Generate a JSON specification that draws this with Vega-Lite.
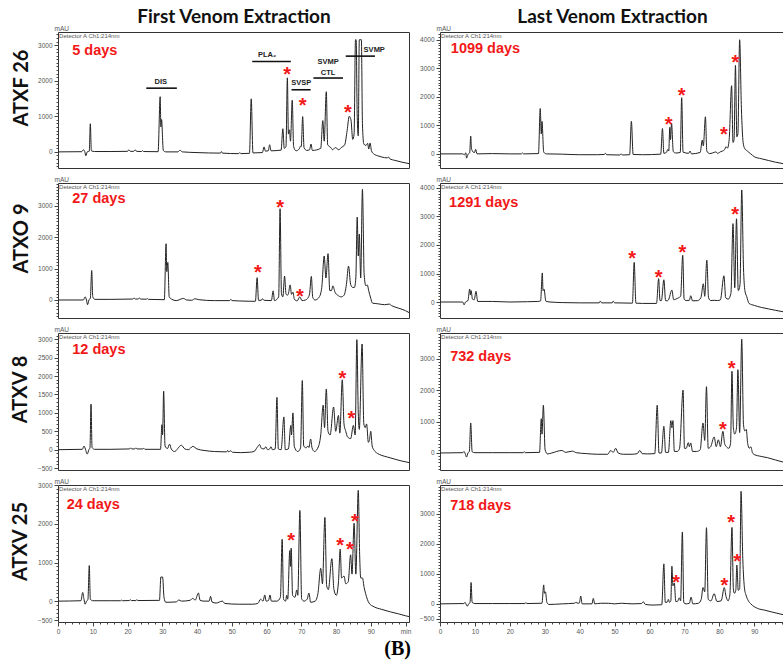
{
"$schema": "https://vega.github.io/schema/vega-lite/v6.json",
"background": "white",
"padding": {"left": 10, "top": 6, "right": 0, "bottom": 8},
"autosize": {"type": "pad"},
"config": {
 "view": {"stroke": "#333", "strokeWidth": 1},
 "font": "Liberation Sans",
 "axis": {"grid": false, "labelFont": "Liberation Sans", "labelFontSize": 6.5, "labelColor": "#555", "tickColor": "#444", "domain": false, "labelPadding": 2, "titleFont": "Liberation Sans", "titleFontSize": 6.5, "titleFontWeight": "normal", "titleColor": "#555", "labelOverlap": false, "labelFlush": false}
},
"title": {"text": "(B)", "orient": "bottom", "anchor": "middle", "font": "Liberation Serif", "fontSize": 20, "fontWeight": "bold", "color": "#000", "offset": 4},
"datasets": {
"r1L": [{"t":0,"v":0},{"t":6.8,"v":5},{"t":7.3,"v":60},{"t":7.7,"v":10},{"t":8.0,"v":-110},{"t":8.4,"v":0},{"t":9.0,"v":20},{"t":9.3,"v":790},{"t":9.6,"v":30},{"t":10.5,"v":10},{"t":15,"v":10},{"t":20.0,"v":15},{"t":20.4,"v":60},{"t":20.8,"v":15},{"t":21.8,"v":15},{"t":22.2,"v":60},{"t":22.6,"v":15},{"t":24.0,"v":10},{"t":24.3,"v":35},{"t":24.6,"v":10},{"t":28.8,"v":5},{"t":29.4,"v":1550},{"t":29.6,"v":700},{"t":29.8,"v":910},{"t":30.3,"v":40},{"t":31,"v":0},{"t":34.5,"v":0},{"t":35.1,"v":45},{"t":35.8,"v":0},{"t":40,"v":-20},{"t":46.7,"v":-35},{"t":47.0,"v":10},{"t":47.3,"v":-35},{"t":52.0,"v":-50},{"t":52.3,"v":-20},{"t":52.6,"v":-50},{"t":55.1,"v":-40},{"t":55.6,"v":1490},{"t":56.1,"v":-30},{"t":58.8,"v":-20},{"t":59.3,"v":140},{"t":59.7,"v":20},{"t":60.5,"v":30},{"t":60.9,"v":200},{"t":61.3,"v":30},{"t":64.2,"v":50},{"t":64.7,"v":650},{"t":65.1,"v":100},{"t":65.6,"v":150},{"t":66.0,"v":2080},{"t":66.3,"v":500},{"t":66.6,"v":620},{"t":66.9,"v":300},{"t":67.4,"v":1450},{"t":67.8,"v":150},{"t":68.5,"v":30},{"t":69.4,"v":80},{"t":69.8,"v":160},{"t":70.0,"v":150},{"t":70.4,"v":990},{"t":70.8,"v":120},{"t":71.6,"v":40},{"t":72.4,"v":60},{"t":72.8,"v":220},{"t":73.2,"v":40},{"t":75.6,"v":100},{"t":76.2,"v":880},{"t":76.6,"v":300},{"t":77.2,"v":1690},{"t":77.6,"v":200},{"t":78.5,"v":120},{"t":79.0,"v":60},{"t":79.8,"v":120},{"t":80.8,"v":60},{"t":81.5,"v":120},{"t":82.5,"v":200},{"t":83.2,"v":600},{"t":83.8,"v":1000},{"t":84.3,"v":900},{"t":84.8,"v":350},{"t":85.2,"v":500},{"t":85.6,"v":3150},{"t":85.8,"v":3150},{"t":86.1,"v":1000},{"t":86.4,"v":450},{"t":86.7,"v":3150},{"t":87.3,"v":3150},{"t":87.6,"v":800},{"t":88.0,"v":220},{"t":88.6,"v":180},{"t":89.1,"v":240},{"t":89.4,"v":80},{"t":89.8,"v":250},{"t":90.2,"v":30},{"t":90.9,"v":-60},{"t":92,"v":-110},{"t":93,"v":-140},{"t":94.8,"v":-170},{"t":95.1,"v":-140},{"t":95.4,"v":-190},{"t":97,"v":-240},{"t":99,"v":-290},{"t":101,"v":-330}],
"r1R": [{"t":0,"v":0},{"t":6.5,"v":0},{"t":7.0,"v":-30},{"t":7.4,"v":40},{"t":7.6,"v":-150},{"t":8.0,"v":-20},{"t":8.5,"v":40},{"t":8.8,"v":620},{"t":9.0,"v":200},{"t":9.2,"v":120},{"t":9.5,"v":60},{"t":9.9,"v":50},{"t":10.2,"v":160},{"t":10.6,"v":0},{"t":15,"v":10},{"t":20,"v":0},{"t":23.3,"v":0},{"t":23.6,"v":35},{"t":23.9,"v":0},{"t":28.2,"v":10},{"t":28.7,"v":1590},{"t":29.0,"v":700},{"t":29.2,"v":1140},{"t":29.7,"v":60},{"t":30.5,"v":0},{"t":35,"v":-10},{"t":40,"v":-30},{"t":45,"v":-30},{"t":47.0,"v":-20},{"t":47.4,"v":20},{"t":47.7,"v":-30},{"t":51.5,"v":-40},{"t":51.9,"v":0},{"t":52.2,"v":-40},{"t":54.3,"v":-30},{"t":54.8,"v":1140},{"t":55.3,"v":-20},{"t":58,"v":-30},{"t":63.2,"v":-10},{"t":63.7,"v":890},{"t":64.1,"v":20},{"t":64.9,"v":60},{"t":65.2,"v":150},{"t":65.5,"v":100},{"t":65.8,"v":930},{"t":66.0,"v":500},{"t":66.3,"v":1080},{"t":66.8,"v":80},{"t":67.5,"v":30},{"t":68.8,"v":50},{"t":69.2,"v":1970},{"t":69.6,"v":60},{"t":71.2,"v":20},{"t":71.6,"v":100},{"t":72.0,"v":0},{"t":74.5,"v":50},{"t":75.1,"v":480},{"t":75.4,"v":280},{"t":76.0,"v":1300},{"t":76.4,"v":100},{"t":77.2,"v":10},{"t":78,"v":30},{"t":79.0,"v":70},{"t":79.5,"v":20},{"t":80.4,"v":80},{"t":80.9,"v":100},{"t":81.5,"v":150},{"t":81.9,"v":250},{"t":82.3,"v":200},{"t":82.8,"v":500},{"t":83.5,"v":2390},{"t":83.9,"v":400},{"t":84.2,"v":500},{"t":84.6,"v":3100},{"t":85.0,"v":600},{"t":85.3,"v":700},{"t":85.8,"v":4000},{"t":86.3,"v":1600},{"t":86.8,"v":400},{"t":87.2,"v":200},{"t":88,"v":100},{"t":89,"v":0},{"t":90,"v":-100},{"t":92,"v":-170},{"t":94,"v":-230},{"t":96,"v":-290},{"t":98.6,"v":-350}],
"r2L": [{"t":0,"v":0},{"t":7.3,"v":0},{"t":7.8,"v":100},{"t":8.2,"v":0},{"t":8.5,"v":-150},{"t":8.9,"v":0},{"t":9.3,"v":50},{"t":9.7,"v":940},{"t":10.0,"v":100},{"t":10.6,"v":20},{"t":15,"v":20},{"t":21.5,"v":30},{"t":21.9,"v":60},{"t":22.3,"v":30},{"t":23.0,"v":30},{"t":23.4,"v":60},{"t":23.8,"v":30},{"t":25.4,"v":25},{"t":25.7,"v":45},{"t":26.0,"v":20},{"t":30.6,"v":10},{"t":31.1,"v":1790},{"t":31.3,"v":900},{"t":31.6,"v":1200},{"t":32.0,"v":100},{"t":32.8,"v":20},{"t":34,"v":-20},{"t":36.1,"v":50},{"t":37,"v":0},{"t":38.5,"v":-10},{"t":39.4,"v":40},{"t":40.5,"v":10},{"t":45,"v":-20},{"t":49.4,"v":-20},{"t":49.7,"v":20},{"t":50.1,"v":-20},{"t":52,"v":-30},{"t":55,"v":-40},{"t":56.8,"v":-40},{"t":57.3,"v":710},{"t":57.7,"v":-10},{"t":58.5,"v":-10},{"t":58.8,"v":40},{"t":59.3,"v":-10},{"t":61.4,"v":-20},{"t":61.9,"v":290},{"t":62.3,"v":-20},{"t":63.5,"v":100},{"t":63.9,"v":2905},{"t":64.3,"v":200},{"t":64.7,"v":100},{"t":65.2,"v":760},{"t":65.6,"v":200},{"t":66.0,"v":150},{"t":66.3,"v":200},{"t":66.8,"v":480},{"t":67.2,"v":180},{"t":67.6,"v":250},{"t":68.0,"v":30},{"t":68.8,"v":-30},{"t":69.6,"v":100},{"t":70.2,"v":-20},{"t":71.2,"v":0},{"t":72.0,"v":80},{"t":72.4,"v":200},{"t":72.9,"v":750},{"t":73.3,"v":80},{"t":74.0,"v":0},{"t":75.2,"v":100},{"t":75.9,"v":400},{"t":76.6,"v":1400},{"t":77.1,"v":700},{"t":77.7,"v":1475},{"t":78.2,"v":300},{"t":78.7,"v":300},{"t":79.1,"v":450},{"t":79.7,"v":250},{"t":80.5,"v":150},{"t":81.5,"v":100},{"t":82.3,"v":150},{"t":83.0,"v":500},{"t":83.6,"v":1080},{"t":84.2,"v":500},{"t":84.8,"v":400},{"t":85.3,"v":400},{"t":85.7,"v":700},{"t":86.1,"v":2640},{"t":86.4,"v":1400},{"t":86.7,"v":2100},{"t":87.1,"v":700},{"t":87.6,"v":3520},{"t":88.1,"v":800},{"t":88.6,"v":450},{"t":89.0,"v":480},{"t":89.4,"v":300},{"t":90.0,"v":50},{"t":90.5,"v":-100},{"t":92,"v":-120},{"t":94,"v":-150},{"t":95.3,"v":-130},{"t":96,"v":-180},{"t":98,"v":-260},{"t":100,"v":-340},{"t":101,"v":-400}],
"r2R": [{"t":0,"v":0},{"t":6.5,"v":0},{"t":6.9,"v":-100},{"t":7.3,"v":0},{"t":8.0,"v":50},{"t":8.5,"v":455},{"t":8.7,"v":250},{"t":8.9,"v":400},{"t":9.3,"v":100},{"t":9.8,"v":80},{"t":10.3,"v":375},{"t":10.8,"v":20},{"t":15,"v":20},{"t":20,"v":0},{"t":25,"v":10},{"t":28.0,"v":20},{"t":28.8,"v":40},{"t":29.3,"v":1020},{"t":29.5,"v":400},{"t":29.8,"v":450},{"t":30.3,"v":30},{"t":31.5,"v":0},{"t":35,"v":-20},{"t":40,"v":-30},{"t":45.6,"v":-30},{"t":45.9,"v":30},{"t":46.3,"v":-30},{"t":49.3,"v":-30},{"t":49.6,"v":30},{"t":50.0,"v":-30},{"t":55.1,"v":-40},{"t":55.6,"v":1390},{"t":56.1,"v":-40},{"t":58,"v":-50},{"t":62.0,"v":-50},{"t":62.6,"v":820},{"t":63.0,"v":50},{"t":63.4,"v":50},{"t":64.1,"v":780},{"t":64.6,"v":50},{"t":65.0,"v":40},{"t":65.4,"v":70},{"t":66.4,"v":420},{"t":66.9,"v":80},{"t":67.5,"v":100},{"t":68.3,"v":150},{"t":68.9,"v":200},{"t":69.5,"v":1640},{"t":69.9,"v":100},{"t":70.5,"v":50},{"t":71.4,"v":60},{"t":71.8,"v":220},{"t":72.3,"v":40},{"t":73.8,"v":50},{"t":74.7,"v":150},{"t":75.4,"v":640},{"t":75.8,"v":200},{"t":76.4,"v":1470},{"t":76.9,"v":150},{"t":77.5,"v":50},{"t":78.5,"v":60},{"t":79.5,"v":50},{"t":80.3,"v":80},{"t":81.3,"v":920},{"t":81.8,"v":150},{"t":82.5,"v":100},{"t":83.3,"v":300},{"t":83.9,"v":2750},{"t":84.4,"v":500},{"t":84.9,"v":2920},{"t":85.4,"v":400},{"t":85.9,"v":600},{"t":86.4,"v":3930},{"t":86.9,"v":1200},{"t":87.3,"v":400},{"t":87.8,"v":200},{"t":88.5,"v":-50},{"t":90,"v":-120},{"t":92,"v":-190},{"t":94,"v":-240},{"t":96,"v":-290},{"t":98.6,"v":-350}],
"r3L": [{"t":0,"v":0},{"t":7.0,"v":10},{"t":7.5,"v":100},{"t":8.0,"v":-20},{"t":8.4,"v":-120},{"t":8.9,"v":0},{"t":9.2,"v":50},{"t":9.5,"v":1240},{"t":9.8,"v":60},{"t":10.5,"v":10},{"t":15,"v":10},{"t":20.6,"v":20},{"t":20.9,"v":50},{"t":21.2,"v":20},{"t":22.1,"v":20},{"t":22.4,"v":50},{"t":22.7,"v":20},{"t":24.4,"v":20},{"t":24.7,"v":40},{"t":25.0,"v":10},{"t":29.5,"v":10},{"t":29.9,"v":680},{"t":30.1,"v":400},{"t":30.4,"v":1590},{"t":30.8,"v":100},{"t":31.5,"v":30},{"t":32.1,"v":150},{"t":32.6,"v":20},{"t":33.5,"v":-50},{"t":35.5,"v":120},{"t":36.5,"v":20},{"t":37.5,"v":0},{"t":38.8,"v":90},{"t":40,"v":20},{"t":42,"v":-20},{"t":45,"v":-50},{"t":48.5,"v":-60},{"t":48.8,"v":-20},{"t":49.1,"v":-60},{"t":49.7,"v":-30},{"t":50.2,"v":-70},{"t":52.6,"v":-80},{"t":55,"v":-70},{"t":56.4,"v":-50},{"t":57.3,"v":60},{"t":58.0,"v":140},{"t":58.5,"v":40},{"t":59.3,"v":20},{"t":59.8,"v":80},{"t":60.3,"v":0},{"t":60.9,"v":20},{"t":61.3,"v":80},{"t":61.7,"v":0},{"t":62.5,"v":20},{"t":63.0,"v":1420},{"t":63.4,"v":20},{"t":64.2,"v":0},{"t":65.0,"v":890},{"t":65.4,"v":0},{"t":66.3,"v":20},{"t":67.0,"v":660},{"t":67.2,"v":400},{"t":67.6,"v":1000},{"t":68.0,"v":80},{"t":69.0,"v":-50},{"t":69.8,"v":50},{"t":70.3,"v":1880},{"t":70.7,"v":100},{"t":71.4,"v":50},{"t":71.9,"v":100},{"t":72.2,"v":60},{"t":72.7,"v":290},{"t":73.1,"v":50},{"t":73.8,"v":-50},{"t":75.0,"v":100},{"t":75.6,"v":400},{"t":76.3,"v":1210},{"t":76.7,"v":600},{"t":77.2,"v":1650},{"t":77.7,"v":500},{"t":78.3,"v":400},{"t":79.3,"v":1160},{"t":79.9,"v":500},{"t":80.7,"v":930},{"t":81.1,"v":450},{"t":81.8,"v":1900},{"t":82.3,"v":700},{"t":82.8,"v":500},{"t":83.3,"v":350},{"t":84.2,"v":300},{"t":85.0,"v":660},{"t":85.5,"v":400},{"t":86.0,"v":2990},{"t":86.4,"v":1000},{"t":86.7,"v":550},{"t":87.5,"v":2870},{"t":88.0,"v":700},{"t":88.4,"v":600},{"t":88.8,"v":700},{"t":89.3,"v":200},{"t":89.6,"v":250},{"t":90.0,"v":500},{"t":90.4,"v":100},{"t":91.0,"v":-20},{"t":91.9,"v":-100},{"t":93,"v":-150},{"t":94.8,"v":-200},{"t":97,"v":-260},{"t":99,"v":-310},{"t":101,"v":-350}],
"r3R": [{"t":0,"v":0},{"t":6.5,"v":10},{"t":6.9,"v":50},{"t":7.3,"v":-50},{"t":7.6,"v":-130},{"t":8.0,"v":0},{"t":8.4,"v":50},{"t":8.8,"v":955},{"t":9.2,"v":40},{"t":10,"v":10},{"t":15,"v":10},{"t":20,"v":10},{"t":23.8,"v":10},{"t":24.1,"v":40},{"t":24.4,"v":10},{"t":28.5,"v":20},{"t":29.0,"v":1090},{"t":29.2,"v":600},{"t":29.6,"v":1520},{"t":30.1,"v":100},{"t":30.8,"v":-30},{"t":32,"v":0},{"t":34.9,"v":80},{"t":36.0,"v":20},{"t":37.9,"v":60},{"t":39,"v":10},{"t":42,"v":-20},{"t":45,"v":-40},{"t":48,"v":-40},{"t":48.9,"v":80},{"t":49.6,"v":20},{"t":50.3,"v":150},{"t":51,"v":0},{"t":52.5,"v":-40},{"t":55,"v":-40},{"t":56.5,"v":-20},{"t":57.2,"v":80},{"t":57.9,"v":-20},{"t":59.5,"v":-30},{"t":61.5,"v":-20},{"t":62.2,"v":1520},{"t":62.7,"v":0},{"t":63.4,"v":0},{"t":64.1,"v":850},{"t":64.6,"v":20},{"t":65.4,"v":20},{"t":66.1,"v":1030},{"t":66.4,"v":800},{"t":66.7,"v":1030},{"t":67.1,"v":50},{"t":68.0,"v":50},{"t":68.6,"v":150},{"t":69.6,"v":2000},{"t":70.0,"v":150},{"t":70.5,"v":150},{"t":71.1,"v":330},{"t":71.4,"v":200},{"t":71.8,"v":320},{"t":72.3,"v":50},{"t":73.5,"v":50},{"t":74.5,"v":100},{"t":75.3,"v":955},{"t":75.8,"v":400},{"t":76.3,"v":2110},{"t":76.8,"v":150},{"t":77.5,"v":200},{"t":78.5,"v":510},{"t":79.1,"v":200},{"t":79.7,"v":420},{"t":80.3,"v":200},{"t":81.0,"v":690},{"t":81.5,"v":300},{"t":82.0,"v":200},{"t":82.7,"v":150},{"t":83.2,"v":300},{"t":83.6,"v":2600},{"t":84.0,"v":800},{"t":84.4,"v":600},{"t":84.9,"v":800},{"t":85.3,"v":2650},{"t":85.8,"v":650},{"t":86.4,"v":3620},{"t":86.9,"v":900},{"t":87.3,"v":700},{"t":87.7,"v":750},{"t":88.1,"v":300},{"t":88.6,"v":150},{"t":89.0,"v":200},{"t":89.5,"v":0},{"t":90,"v":-50},{"t":92,"v":-110},{"t":93.8,"v":-150},{"t":96,"v":-220},{"t":98.6,"v":-300}],
"r4L": [{"t":0,"v":0},{"t":6.6,"v":10},{"t":7.1,"v":225},{"t":7.5,"v":40},{"t":7.8,"v":-80},{"t":8.2,"v":0},{"t":8.6,"v":30},{"t":9.0,"v":920},{"t":9.3,"v":50},{"t":10,"v":10},{"t":15,"v":10},{"t":18.0,"v":10},{"t":18.3,"v":25},{"t":18.6,"v":10},{"t":20.5,"v":15},{"t":20.8,"v":35},{"t":21.1,"v":15},{"t":22.4,"v":15},{"t":22.7,"v":35},{"t":23,"v":15},{"t":29.2,"v":20},{"t":29.6,"v":625},{"t":30.1,"v":625},{"t":30.5,"v":100},{"t":31.0,"v":-30},{"t":34,"v":-20},{"t":34.8,"v":30},{"t":35.5,"v":0},{"t":38.0,"v":20},{"t":38.7,"v":70},{"t":39.5,"v":30},{"t":40.4,"v":210},{"t":40.9,"v":20},{"t":42,"v":0},{"t":43.5,"v":0},{"t":43.9,"v":125},{"t":44.3,"v":-20},{"t":45.5,"v":-50},{"t":47.3,"v":0},{"t":48,"v":-60},{"t":52,"v":-80},{"t":56,"v":-80},{"t":57.5,"v":-60},{"t":58.3,"v":50},{"t":59.0,"v":0},{"t":59.5,"v":160},{"t":59.9,"v":0},{"t":60.6,"v":20},{"t":61.0,"v":160},{"t":61.4,"v":0},{"t":63.0,"v":0},{"t":64.0,"v":100},{"t":64.5,"v":1600},{"t":64.9,"v":50},{"t":65.5,"v":0},{"t":65.8,"v":150},{"t":66.1,"v":50},{"t":66.7,"v":1310},{"t":66.9,"v":900},{"t":67.1,"v":1375},{"t":67.5,"v":150},{"t":68.2,"v":100},{"t":68.7,"v":290},{"t":69.0,"v":150},{"t":69.6,"v":2350},{"t":70.1,"v":60},{"t":70.8,"v":0},{"t":71.7,"v":50},{"t":72.2,"v":210},{"t":72.7,"v":-30},{"t":74.0,"v":0},{"t":74.8,"v":200},{"t":75.6,"v":850},{"t":76.1,"v":450},{"t":76.8,"v":2170},{"t":77.3,"v":400},{"t":77.8,"v":300},{"t":78.8,"v":1100},{"t":79.4,"v":300},{"t":80.1,"v":150},{"t":80.7,"v":500},{"t":81.2,"v":1350},{"t":81.6,"v":600},{"t":82.3,"v":650},{"t":82.8,"v":450},{"t":83.5,"v":500},{"t":84.2,"v":1200},{"t":84.6,"v":700},{"t":85.2,"v":2020},{"t":85.7,"v":700},{"t":86.4,"v":2870},{"t":86.8,"v":1200},{"t":87.1,"v":600},{"t":87.6,"v":600},{"t":88.1,"v":350},{"t":88.5,"v":200},{"t":89.5,"v":-50},{"t":91,"v":-150},{"t":93,"v":-210},{"t":95.7,"v":-280},{"t":98,"v":-330},{"t":100,"v":-380},{"t":101,"v":-400}],
"r4R": [{"t":0,"v":0},{"t":6.8,"v":10},{"t":7.2,"v":50},{"t":7.5,"v":-20},{"t":7.8,"v":-80},{"t":8.2,"v":0},{"t":8.6,"v":40},{"t":8.9,"v":710},{"t":9.2,"v":50},{"t":10,"v":10},{"t":15,"v":10},{"t":20,"v":10},{"t":24.3,"v":10},{"t":24.6,"v":40},{"t":24.9,"v":10},{"t":29.2,"v":20},{"t":29.7,"v":630},{"t":29.9,"v":350},{"t":30.2,"v":400},{"t":30.6,"v":50},{"t":31.2,"v":-20},{"t":35,"v":0},{"t":38.5,"v":20},{"t":38.9,"v":50},{"t":39.5,"v":20},{"t":39.9,"v":30},{"t":40.3,"v":260},{"t":40.7,"v":0},{"t":43.5,"v":0},{"t":43.9,"v":180},{"t":44.3,"v":0},{"t":46,"v":20},{"t":48.2,"v":20},{"t":50,"v":0},{"t":52,"v":20},{"t":55,"v":0},{"t":57.7,"v":10},{"t":58.2,"v":70},{"t":58.8,"v":-20},{"t":61,"v":-40},{"t":63.5,"v":-30},{"t":64.1,"v":1330},{"t":64.5,"v":50},{"t":65.1,"v":60},{"t":65.4,"v":150},{"t":65.7,"v":50},{"t":66.1,"v":100},{"t":66.4,"v":1250},{"t":66.7,"v":600},{"t":67.1,"v":690},{"t":67.5,"v":80},{"t":68.0,"v":80},{"t":68.5,"v":200},{"t":68.9,"v":100},{"t":69.4,"v":2390},{"t":69.8,"v":40},{"t":70.5,"v":0},{"t":71.4,"v":20},{"t":71.9,"v":225},{"t":72.4,"v":0},{"t":74.0,"v":20},{"t":74.8,"v":150},{"t":75.3,"v":540},{"t":75.8,"v":400},{"t":76.3,"v":2530},{"t":76.8,"v":150},{"t":77.6,"v":100},{"t":78.5,"v":340},{"t":79.3,"v":80},{"t":80.5,"v":100},{"t":81.4,"v":540},{"t":81.9,"v":250},{"t":82.5,"v":100},{"t":83.0,"v":300},{"t":83.6,"v":2540},{"t":84.0,"v":500},{"t":84.3,"v":350},{"t":84.7,"v":450},{"t":85.0,"v":1290},{"t":85.4,"v":450},{"t":85.8,"v":500},{"t":86.2,"v":3740},{"t":86.7,"v":1500},{"t":87.2,"v":500},{"t":87.6,"v":300},{"t":88.3,"v":100},{"t":89,"v":0},{"t":90.9,"v":-150},{"t":93,"v":-210},{"t":95,"v":-270},{"t":98.6,"v":-370}]
},
"columns": 2,
"spacing": {"row": 15, "column": 31},
"bounds": "flush",
"concat": [
 {"width": 351, "height": 136,
  "title": {"text": "ATXF 26", "orient": "left", "anchor": "middle", "font": "Lato", "fontSize": 20, "fontWeight": "bold", "color": "#111", "offset": 6, "dx": 12},
  "layer": [
   {"data": {"name": "r1L"}, "mark": {"type": "line", "color": "#222", "strokeWidth": 1, "interpolate": "monotone", "clip": true},
    "encoding": {"x": {"field": "t", "type": "quantitative", "scale": {"domain": [0, 101], "nice": false, "zero": false},
      "axis": {"orient": "top", "labels": false, "ticks": false, "title": "First Venom Extraction", "titleFont": "Lato", "titleFontSize": 19, "titleFontWeight": "bold", "titleColor": "#111", "titlePadding": 6}},
     "y": {"field": "v", "type": "quantitative", "scale": {"domain": [-453, 3368], "nice": false, "zero": false},
      "axis": {"tickCount": 40, "format": "d", "labelExpr": "datum.value % 1000 === 0 ? datum.label : ''", "tickSize": {"condition": {"test": "datum.value % 1000 === 0", "value": 4}, "value": 2}, "title": "mAU", "titleAngle": 0, "titleAlign": "left", "titleBaseline": "bottom", "titleX": -4, "titleY": -1}}}},
   {"data": {"values": [{"t": 25.4, "t2": 34.2, "v": 1790}, {"t": 55.9, "t2": 67.0, "v": 2540}, {"t": 67.2, "t2": 72.7, "v": 1745}, {"t": 73.5, "t2": 82.0, "v": 2075}, {"t": 82.8, "t2": 91.2, "v": 2690}]},
    "mark": {"type": "rule", "color": "#111", "strokeWidth": 1.6},
    "encoding": {"x": {"field": "t", "type": "quantitative"}, "x2": {"field": "t2"}, "y": {"field": "v", "type": "quantitative"}}},
   {"data": {"values": [{"t": 29.6, "v": 1960, "label": "DIS"}, {"t": 60.2, "v": 2720, "label": "PLA₂"}, {"t": 70.0, "v": 1925, "label": "SVSP"}, {"t": 77.7, "v": 2520, "label": "SVMP"}, {"t": 77.7, "v": 2215, "label": "CTL"}, {"t": 91.0, "v": 2850, "label": "SVMP"}]},
    "mark": {"type": "text", "fontSize": 7.5, "fontWeight": "bold", "color": "#222", "baseline": "middle", "align": "center"},
    "encoding": {"x": {"field": "t", "type": "quantitative"}, "y": {"field": "v", "type": "quantitative"}, "text": {"field": "label"}}},
   {"data": {"values": [{"t": 65.9, "v": 2260}, {"t": 70.4, "v": 1390}, {"t": 83.4, "v": 1210}]},
    "mark": {"type": "text", "text": "*", "color": "#f21818", "fontSize": 20, "fontWeight": "bold", "baseline": "middle", "dy": 4},
    "encoding": {"x": {"field": "t", "type": "quantitative"}, "y": {"field": "v", "type": "quantitative"}}},
   {"data": {"values": [{"t": 4.1, "v": 2830, "label": "5 days"}]},
    "mark": {"type": "text", "align": "left", "baseline": "middle", "color": "#f21818", "fontSize": 14.5, "fontWeight": "bold"},
    "encoding": {"x": {"field": "t", "type": "quantitative"}, "y": {"field": "v", "type": "quantitative"}, "text": {"field": "label"}}},
   {"data": {"values": [{"t": 0.3, "v": 3368, "label": "Detector  A Ch1:214nm"}]},
    "mark": {"type": "text", "align": "left", "baseline": "top", "color": "#555", "fontSize": 6, "dy": 1},
    "encoding": {"x": {"field": "t", "type": "quantitative"}, "y": {"field": "v", "type": "quantitative"}, "text": {"field": "label"}}}
  ]},
 {"width": 344, "height": 136,
  "layer": [
   {"data": {"name": "r1R"}, "mark": {"type": "line", "color": "#222", "strokeWidth": 1, "interpolate": "monotone", "clip": true},
    "encoding": {"x": {"field": "t", "type": "quantitative", "scale": {"domain": [0, 98.5], "nice": false, "zero": false},
      "axis": {"orient": "top", "labels": false, "ticks": false, "title": "Last Venom Extraction", "titleFont": "Lato", "titleFontSize": 19, "titleFontWeight": "bold", "titleColor": "#111", "titlePadding": 6}},
     "y": {"field": "v", "type": "quantitative", "scale": {"domain": [-495, 4272], "nice": false, "zero": false},
      "axis": {"tickCount": 40, "format": "d", "labelExpr": "datum.value % 1000 === 0 ? datum.label : ''", "tickSize": {"condition": {"test": "datum.value % 1000 === 0", "value": 4}, "value": 2}, "title": "mAU", "titleAngle": 0, "titleAlign": "left", "titleBaseline": "bottom", "titleX": -4, "titleY": -1}}}},
   {"data": {"values": [{"t": 65.5, "v": 1140}, {"t": 69.2, "v": 2160}, {"t": 81.3, "v": 800}, {"t": 84.6, "v": 3330}]},
    "mark": {"type": "text", "text": "*", "color": "#f21818", "fontSize": 20, "fontWeight": "bold", "baseline": "middle", "dy": 4},
    "encoding": {"x": {"field": "t", "type": "quantitative"}, "y": {"field": "v", "type": "quantitative"}}},
   {"data": {"values": [{"t": 3.1, "v": 3660, "label": "1099 days"}]},
    "mark": {"type": "text", "align": "left", "baseline": "middle", "color": "#f21818", "fontSize": 14.5, "fontWeight": "bold"},
    "encoding": {"x": {"field": "t", "type": "quantitative"}, "y": {"field": "v", "type": "quantitative"}, "text": {"field": "label"}}},
   {"data": {"values": [{"t": 0.3, "v": 4272, "label": "Detector  A Ch1:214nm"}]},
    "mark": {"type": "text", "align": "left", "baseline": "top", "color": "#555", "fontSize": 6, "dy": 1},
    "encoding": {"x": {"field": "t", "type": "quantitative"}, "y": {"field": "v", "type": "quantitative"}, "text": {"field": "label"}}}
  ]},
 {"width": 351, "height": 135,
  "title": {"text": "ATXO 9", "orient": "left", "anchor": "middle", "font": "Lato", "fontSize": 20, "fontWeight": "bold", "color": "#111", "offset": 6, "dx": 12},
  "layer": [
   {"data": {"name": "r2L"}, "mark": {"type": "line", "color": "#222", "strokeWidth": 1, "interpolate": "monotone", "clip": true},
    "encoding": {"x": {"field": "t", "type": "quantitative", "scale": {"domain": [0, 101], "nice": false, "zero": false}, "axis": null},
     "y": {"field": "v", "type": "quantitative", "scale": {"domain": [-573, 3723], "nice": false, "zero": false},
      "axis": {"tickCount": 40, "format": "d", "labelExpr": "datum.value % 1000 === 0 ? datum.label : ''", "tickSize": {"condition": {"test": "datum.value % 1000 === 0", "value": 4}, "value": 2}, "title": "mAU", "titleAngle": 0, "titleAlign": "left", "titleBaseline": "bottom", "titleX": -4, "titleY": -1}}}},
   {"data": {"values": [{"t": 57.5, "v": 975}, {"t": 63.9, "v": 3040}, {"t": 69.6, "v": 230}]},
    "mark": {"type": "text", "text": "*", "color": "#f21818", "fontSize": 20, "fontWeight": "bold", "baseline": "middle", "dy": 4},
    "encoding": {"x": {"field": "t", "type": "quantitative"}, "y": {"field": "v", "type": "quantitative"}}},
   {"data": {"values": [{"t": 4.1, "v": 3200, "label": "27 days"}]},
    "mark": {"type": "text", "align": "left", "baseline": "middle", "color": "#f21818", "fontSize": 14.5, "fontWeight": "bold"},
    "encoding": {"x": {"field": "t", "type": "quantitative"}, "y": {"field": "v", "type": "quantitative"}, "text": {"field": "label"}}},
   {"data": {"values": [{"t": 0.3, "v": 3723, "label": "Detector  A Ch1:214nm"}]},
    "mark": {"type": "text", "align": "left", "baseline": "top", "color": "#555", "fontSize": 6, "dy": 1},
    "encoding": {"x": {"field": "t", "type": "quantitative"}, "y": {"field": "v", "type": "quantitative"}, "text": {"field": "label"}}}
  ]},
 {"width": 344, "height": 135,
  "layer": [
   {"data": {"name": "r2R"}, "mark": {"type": "line", "color": "#222", "strokeWidth": 1, "interpolate": "monotone", "clip": true},
    "encoding": {"x": {"field": "t", "type": "quantitative", "scale": {"domain": [0, 98.5], "nice": false, "zero": false}, "axis": null},
     "y": {"field": "v", "type": "quantitative", "scale": {"domain": [-561, 4175], "nice": false, "zero": false},
      "axis": {"tickCount": 40, "format": "d", "labelExpr": "datum.value % 1000 === 0 ? datum.label : ''", "tickSize": {"condition": {"test": "datum.value % 1000 === 0", "value": 4}, "value": 2}, "title": "mAU", "titleAngle": 0, "titleAlign": "left", "titleBaseline": "bottom", "titleX": -4, "titleY": -1}}}},
   {"data": {"values": [{"t": 55.0, "v": 1660}, {"t": 62.6, "v": 980}, {"t": 69.4, "v": 1870}, {"t": 84.5, "v": 3200}]},
    "mark": {"type": "text", "text": "*", "color": "#f21818", "fontSize": 20, "fontWeight": "bold", "baseline": "middle", "dy": 4},
    "encoding": {"x": {"field": "t", "type": "quantitative"}, "y": {"field": "v", "type": "quantitative"}}},
   {"data": {"values": [{"t": 2.6, "v": 3470, "label": "1291 days"}]},
    "mark": {"type": "text", "align": "left", "baseline": "middle", "color": "#f21818", "fontSize": 14.5, "fontWeight": "bold"},
    "encoding": {"x": {"field": "t", "type": "quantitative"}, "y": {"field": "v", "type": "quantitative"}, "text": {"field": "label"}}},
   {"data": {"values": [{"t": 0.3, "v": 4175, "label": "Detector  A Ch1:214nm"}]},
    "mark": {"type": "text", "align": "left", "baseline": "top", "color": "#555", "fontSize": 6, "dy": 1},
    "encoding": {"x": {"field": "t", "type": "quantitative"}, "y": {"field": "v", "type": "quantitative"}, "text": {"field": "label"}}}
  ]},
 {"width": 351, "height": 137,
  "title": {"text": "ATXV 8", "orient": "left", "anchor": "middle", "font": "Lato", "fontSize": 20, "fontWeight": "bold", "color": "#111", "offset": 6, "dx": 12},
  "layer": [
   {"data": {"name": "r3L"}, "mark": {"type": "line", "color": "#222", "strokeWidth": 1, "interpolate": "monotone", "clip": true},
    "encoding": {"x": {"field": "t", "type": "quantitative", "scale": {"domain": [0, 101], "nice": false, "zero": false}, "axis": null},
     "y": {"field": "v", "type": "quantitative", "scale": {"domain": [-552, 3171], "nice": false, "zero": false},
      "axis": {"tickCount": 40, "format": "d", "labelExpr": "datum.value % 500 === 0 ? datum.label : ''", "tickSize": {"condition": {"test": "datum.value % 500 === 0", "value": 4}, "value": 2}, "title": "mAU", "titleAngle": 0, "titleAlign": "left", "titleBaseline": "bottom", "titleX": -4, "titleY": -1}}}},
   {"data": {"values": [{"t": 81.8, "v": 2040}, {"t": 84.4, "v": 950}]},
    "mark": {"type": "text", "text": "*", "color": "#f21818", "fontSize": 20, "fontWeight": "bold", "baseline": "middle", "dy": 4},
    "encoding": {"x": {"field": "t", "type": "quantitative"}, "y": {"field": "v", "type": "quantitative"}}},
   {"data": {"values": [{"t": 4.1, "v": 2720, "label": "12 days"}]},
    "mark": {"type": "text", "align": "left", "baseline": "middle", "color": "#f21818", "fontSize": 14.5, "fontWeight": "bold"},
    "encoding": {"x": {"field": "t", "type": "quantitative"}, "y": {"field": "v", "type": "quantitative"}, "text": {"field": "label"}}},
   {"data": {"values": [{"t": 0.3, "v": 3171, "label": "Detector  A Ch1:214nm"}]},
    "mark": {"type": "text", "align": "left", "baseline": "top", "color": "#555", "fontSize": 6, "dy": 1},
    "encoding": {"x": {"field": "t", "type": "quantitative"}, "y": {"field": "v", "type": "quantitative"}, "text": {"field": "label"}}}
  ]},
 {"width": 344, "height": 137,
  "layer": [
   {"data": {"name": "r3R"}, "mark": {"type": "line", "color": "#222", "strokeWidth": 1, "interpolate": "monotone", "clip": true},
    "encoding": {"x": {"field": "t", "type": "quantitative", "scale": {"domain": [0, 98.5], "nice": false, "zero": false}, "axis": null},
     "y": {"field": "v", "type": "quantitative", "scale": {"domain": [-541, 3818], "nice": false, "zero": false},
      "axis": {"tickCount": 40, "format": "d", "labelExpr": "datum.value % 1000 === 0 ? datum.label : ''", "tickSize": {"condition": {"test": "datum.value % 1000 === 0", "value": 4}, "value": 2}, "title": "mAU", "titleAngle": 0, "titleAlign": "left", "titleBaseline": "bottom", "titleX": -4, "titleY": -1}}}},
   {"data": {"values": [{"t": 81.0, "v": 870}, {"t": 83.5, "v": 2810}]},
    "mark": {"type": "text", "text": "*", "color": "#f21818", "fontSize": 20, "fontWeight": "bold", "baseline": "middle", "dy": 4},
    "encoding": {"x": {"field": "t", "type": "quantitative"}, "y": {"field": "v", "type": "quantitative"}}},
   {"data": {"values": [{"t": 2.9, "v": 3050, "label": "732 days"}]},
    "mark": {"type": "text", "align": "left", "baseline": "middle", "color": "#f21818", "fontSize": 14.5, "fontWeight": "bold"},
    "encoding": {"x": {"field": "t", "type": "quantitative"}, "y": {"field": "v", "type": "quantitative"}, "text": {"field": "label"}}},
   {"data": {"values": [{"t": 0.3, "v": 3818, "label": "Detector  A Ch1:214nm"}]},
    "mark": {"type": "text", "align": "left", "baseline": "top", "color": "#555", "fontSize": 6, "dy": 1},
    "encoding": {"x": {"field": "t", "type": "quantitative"}, "y": {"field": "v", "type": "quantitative"}, "text": {"field": "label"}}}
  ]},
 {"width": 351, "height": 137,
  "title": {"text": "ATXV 25", "orient": "left", "anchor": "middle", "font": "Lato", "fontSize": 20, "fontWeight": "bold", "color": "#111", "offset": 6, "dx": 12},
  "layer": [
   {"data": {"name": "r4L"}, "mark": {"type": "line", "color": "#222", "strokeWidth": 1, "interpolate": "monotone", "clip": true},
    "encoding": {"x": {"field": "t", "type": "quantitative", "scale": {"domain": [0, 101], "nice": false, "zero": false},
      "axis": {"tickCount": 50, "format": "d", "labelExpr": "datum.value === 100 ? 'min' : (datum.value % 10 === 0 ? datum.label : '')", "tickSize": {"condition": {"test": "datum.value % 10 === 0", "value": 4}, "value": 2}, "title": null}},
     "y": {"field": "v", "type": "quantitative", "scale": {"domain": [-541, 3010], "nice": false, "zero": false},
      "axis": {"tickCount": 40, "format": "d", "labelExpr": "(datum.value % 1000 === 0 || datum.value === -500) ? datum.label : ''", "tickSize": {"condition": {"test": "datum.value % 1000 === 0 || datum.value === -500", "value": 4}, "value": 2}, "title": "mAU", "titleAngle": 0, "titleAlign": "left", "titleBaseline": "bottom", "titleX": -4, "titleY": -1}}}},
   {"data": {"values": [{"t": 67.1, "v": 1675}, {"t": 81.2, "v": 1520}, {"t": 84.0, "v": 1430}, {"t": 85.4, "v": 2160}]},
    "mark": {"type": "text", "text": "*", "color": "#f21818", "fontSize": 20, "fontWeight": "bold", "baseline": "middle", "dy": 4},
    "encoding": {"x": {"field": "t", "type": "quantitative"}, "y": {"field": "v", "type": "quantitative"}}},
   {"data": {"values": [{"t": 2.5, "v": 2500, "label": "24 days"}]},
    "mark": {"type": "text", "align": "left", "baseline": "middle", "color": "#f21818", "fontSize": 14.5, "fontWeight": "bold"},
    "encoding": {"x": {"field": "t", "type": "quantitative"}, "y": {"field": "v", "type": "quantitative"}, "text": {"field": "label"}}},
   {"data": {"values": [{"t": 0.3, "v": 3010, "label": "Detector  A Ch1:214nm"}]},
    "mark": {"type": "text", "align": "left", "baseline": "top", "color": "#555", "fontSize": 6, "dy": 1},
    "encoding": {"x": {"field": "t", "type": "quantitative"}, "y": {"field": "v", "type": "quantitative"}, "text": {"field": "label"}}}
  ]},
 {"width": 344, "height": 137,
  "layer": [
   {"data": {"name": "r4R"}, "mark": {"type": "line", "color": "#222", "strokeWidth": 1, "interpolate": "monotone", "clip": true},
    "encoding": {"x": {"field": "t", "type": "quantitative", "scale": {"domain": [0, 98.5], "nice": false, "zero": false},
      "axis": {"tickCount": 50, "format": "d", "labelExpr": "datum.value === 100 ? 'min' : (datum.value % 10 === 0 ? datum.label : '')", "tickSize": {"condition": {"test": "datum.value % 10 === 0", "value": 4}, "value": 2}, "title": null}},
     "y": {"field": "v", "type": "quantitative", "scale": {"domain": [-603, 3950], "nice": false, "zero": false},
      "axis": {"tickCount": 40, "format": "d", "labelExpr": "(datum.value % 1000 === 0 || datum.value === -500) ? datum.label : ''", "tickSize": {"condition": {"test": "datum.value % 1000 === 0 || datum.value === -500", "value": 4}, "value": 2}, "title": "mAU", "titleAngle": 0, "titleAlign": "left", "titleBaseline": "bottom", "titleX": -4, "titleY": -1}}}},
   {"data": {"values": [{"t": 67.6, "v": 840}, {"t": 81.4, "v": 730}, {"t": 83.4, "v": 2820}, {"t": 85.1, "v": 1530}]},
    "mark": {"type": "text", "text": "*", "color": "#f21818", "fontSize": 20, "fontWeight": "bold", "baseline": "middle", "dy": 4},
    "encoding": {"x": {"field": "t", "type": "quantitative"}, "y": {"field": "v", "type": "quantitative"}}},
   {"data": {"values": [{"t": 2.9, "v": 3240, "label": "718 days"}]},
    "mark": {"type": "text", "align": "left", "baseline": "middle", "color": "#f21818", "fontSize": 14.5, "fontWeight": "bold"},
    "encoding": {"x": {"field": "t", "type": "quantitative"}, "y": {"field": "v", "type": "quantitative"}, "text": {"field": "label"}}},
   {"data": {"values": [{"t": 0.3, "v": 3950, "label": "Detector  A Ch1:214nm"}]},
    "mark": {"type": "text", "align": "left", "baseline": "top", "color": "#555", "fontSize": 6, "dy": 1},
    "encoding": {"x": {"field": "t", "type": "quantitative"}, "y": {"field": "v", "type": "quantitative"}, "text": {"field": "label"}}}
  ]}
]
}
